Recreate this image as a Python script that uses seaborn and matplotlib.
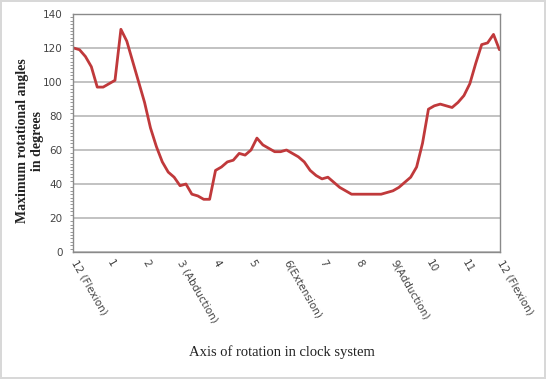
import matplotlib
matplotlib.use("Agg")
import matplotlib.pyplot as plt
import seaborn as sns
import pandas as pd
from matplotlib.ticker import MultipleLocator

# one value every 5 degrees of the clock dial, 12 -> 12
angles = [120, 119, 115, 109, 97, 97, 99, 101, 131, 124,
          112, 100, 88, 73, 62, 53, 47, 44, 39, 40,
          34, 33, 31, 31, 48, 50, 53, 54, 58, 57,
          60, 67, 63, 61, 59, 59, 60, 58, 56, 53,
          48, 45, 43, 44, 41, 38, 36, 34, 34, 34,
          34, 34, 34, 35, 36, 38, 41, 44, 50, 64,
          84, 86, 87, 86, 85, 88, 92, 99, 111, 122,
          123, 128, 119]

hour_labels = ["12 (Flexion)", "1", "2", "3 (Abduction)", "4", "5", "6(Extension)",
               "7", "8", "9(Adduction)", "10", "11", "12 (Flexion)"]

df = pd.DataFrame({"pos": range(len(angles)), "angle": angles})

sns.set_style("white")
fig = plt.figure(figsize=(5.46, 3.79), dpi=100)
fig.patch.set_edgecolor("#d8d8d8")
fig.patch.set_linewidth(1.5)
ax = fig.add_axes([73 / 546, 1 - 252 / 379, 427 / 546, 238 / 379])

sns.lineplot(data=df, x="pos", y="angle", color="#c0393b", linewidth=2.0, ax=ax)

ax.set_xlim(-0.1, len(angles) - 1 + 0.1)
ax.set_ylim(0, 140)
ax.yaxis.set_major_locator(MultipleLocator(20))
ax.yaxis.set_minor_locator(MultipleLocator(2))
ax.grid(axis="y", color="#bdbdbd", linewidth=1.3)
ax.set_axisbelow(True)

ax.set_xticks(range(len(angles)))
ax.set_xticklabels(["" for _ in angles])
for i, lab in zip(range(0, len(angles), 6), hour_labels):
    ax.text(i, -5, lab, rotation=-60, rotation_mode="anchor", ha="left", va="center",
            fontsize=7.5, color="#444444", transform=ax.transData)
ax.tick_params(axis="x", which="major", direction="out", length=3, width=0.8, color="#888888")
ax.tick_params(axis="y", which="major", direction="out", length=4, width=0.8,
               color="#888888", labelsize=7.5, labelcolor="#444444")
ax.tick_params(axis="y", which="minor", direction="out", length=2, width=0.6, color="#888888", left=True)

for s in ax.spines.values():
    s.set_color("#8a8a8a")
    s.set_linewidth(1.0)

ax.set_xlabel("")
ax.set_ylabel("Maximum rotational angles\nin degrees", family="Liberation Serif",
              fontweight="bold", fontsize=10, color="#222222")
ax.yaxis.set_label_coords(-0.068, 0.466)
fig.text(282 / 546, 1 - 352 / 379, "Axis of rotation in clock system", family="Liberation Serif",
         fontsize=10.5, color="#222222", ha="center", va="center")

fig.savefig("out.png", dpi=100, edgecolor=fig.get_edgecolor())
